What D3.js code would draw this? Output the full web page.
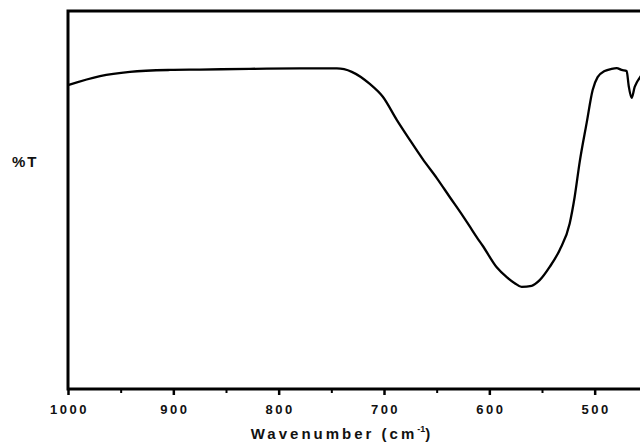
<!DOCTYPE html>
<html>
<head>
<meta charset="utf-8">
<script src="https://cdn.jsdelivr.net/npm/d3@7"></script>
<style>
  html, body { margin: 0; padding: 0; background: #fff; }
  svg { display: block; font-family: "Liberation Sans", Arial, sans-serif; }
</style>
</head>
<body>
<div id="chart"></div>
<script>
// wavenumber (cm-1) and transmittance (arbitrary %T)
const wavenumbers = [1000, 969.6, 941.2, 903.2, 874.8, 827.3, 779.9, 744.8, 730.6, 713.5,
  701.1, 687.9, 675.5, 663.2, 649.9, 637.6, 625.2, 618.6, 612.0, 606.3,
  593.0, 583.5, 575.9, 569.3, 559.8, 552.2, 542.7, 533.2, 523.7, 519.0,
  514.2, 507.6, 501.9, 497.2, 490.5, 483.9, 479.1, 474.4, 469.6, 467.7,
  464.9, 462.0, 460.2, 457.3, 452.6];
const transmittance = [80.4, 82.8, 83.9, 84.4, 84.5, 84.7, 84.8, 84.8, 83.9, 80.7,
  77.3, 71.2, 65.9, 60.8, 55.8, 50.8, 45.8, 43.0, 40.2, 37.9,
  32.2, 29.6, 28.0, 27.0, 27.3, 28.8, 32.3, 36.8, 43.8, 50.8,
  60.1, 70.4, 79.1, 82.5, 84.1, 84.7, 84.9, 84.4, 84.1, 80.2,
  77.0, 79.9, 81.0, 82.3, 84.4];
const xTicks = [1000, 900, 800, 700, 600, 500];

const width = 640, height = 444;
const margin = { top: 11, left: 68, bottom: 55 };
const plotRight = 700; // plot runs past the cropped right edge

const svg = d3.select("#chart").append("svg")
  .attr("width", width)
  .attr("height", height);

const x = d3.scaleLinear().domain([1000, 400]).range([margin.left, plotRight]);
const y = d3.scaleLinear().domain([0, 100]).range([height - margin.bottom, margin.top]);

const data = wavenumbers.map((w, i) => ({ w, t: transmittance[i] }));

// frame
svg.append("rect")
  .attr("x", margin.left)
  .attr("y", margin.top)
  .attr("width", plotRight - margin.left)
  .attr("height", y(0) - margin.top)
  .attr("fill", "none")
  .attr("stroke", "#000")
  .attr("stroke-width", 3);

// bottom axis
const minorTicks = d3.range(1000, 399, -50).filter((d) => d % 100 !== 0);
svg.append("g")
  .attr("transform", `translate(0,${y(0)})`)
  .call(d3.axisBottom(x).tickValues(minorTicks).tickSize(4).tickFormat(""))
  .call((g) => g.select(".domain").remove())
  .call((g) => g.selectAll("line").attr("stroke-width", 2));

svg.append("g")
  .attr("transform", `translate(0,${y(0)})`)
  .call(d3.axisBottom(x).tickValues(xTicks).tickSize(6).tickPadding(10).tickFormat(d3.format("d")))
  .call((g) => g.select(".domain").remove())
  .call((g) => g.selectAll("line").attr("stroke-width", 2.5))
  .call((g) => g.selectAll("text")
    .attr("dx", "1px")
    .style("font-size", "13px")
    .style("font-weight", "700")
    .style("letter-spacing", "2.5px")
    .style("font-family", "'Liberation Sans', Arial, sans-serif")
    .attr("fill", "#111"));

// spectrum
svg.append("path")
  .datum(data)
  .attr("fill", "none")
  .attr("stroke", "#000")
  .attr("stroke-width", 2.3)
  .attr("stroke-linejoin", "round")
  .attr("d", d3.line().x((d) => x(d.w)).y((d) => y(d.t)).curve(d3.curveMonotoneX));

// axis titles
const xTitle = svg.append("text")
  .attr("x", 342)
  .attr("y", 439)
  .attr("text-anchor", "middle")
  .style("font-size", "15px")
  .style("font-weight", "700")
  .style("letter-spacing", "3px")
  .attr("fill", "#111");
xTitle.append("tspan").text("Wavenumber (cm");
xTitle.append("tspan").attr("dy", -7).style("font-size", "9px").style("letter-spacing", "0px").text("-1");
xTitle.append("tspan").attr("dy", 7).text(")");

svg.append("text")
  .attr("x", 12)
  .attr("y", 167)
  .style("font-size", "15px")
  .style("font-weight", "700")
  .style("letter-spacing", "2px")
  .attr("fill", "#111")
  .text("%T");
</script>
</body>
</html>
